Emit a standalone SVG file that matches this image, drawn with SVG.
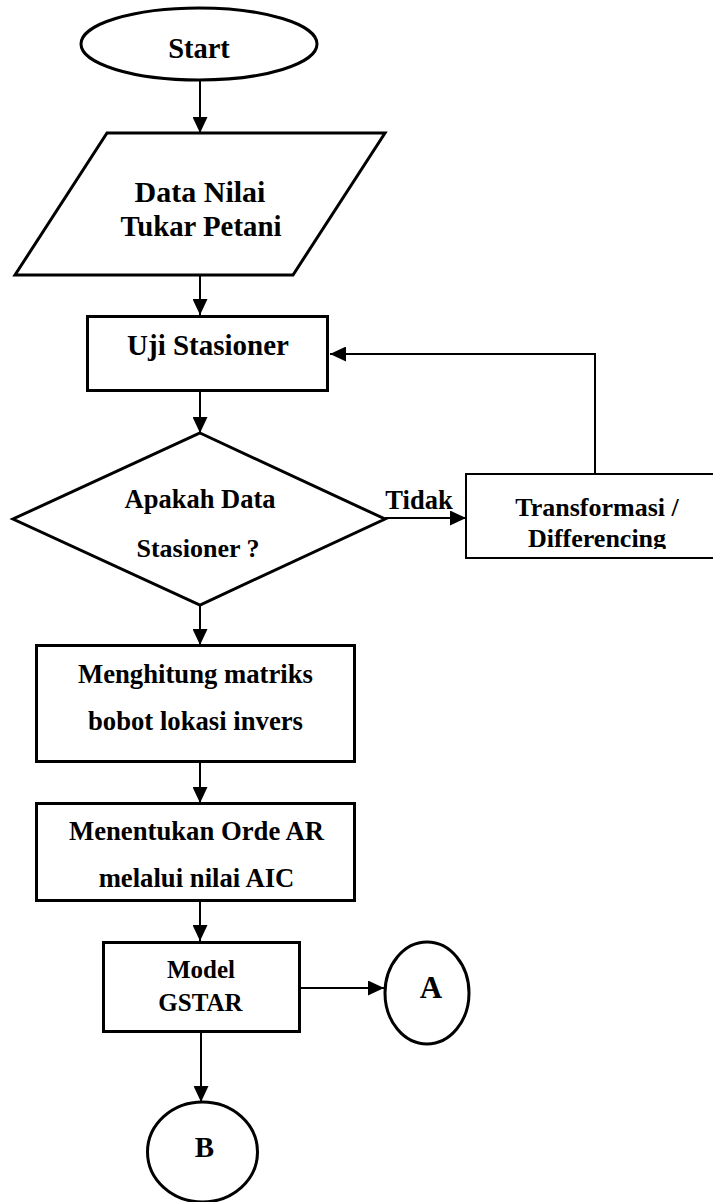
<svg xmlns="http://www.w3.org/2000/svg" width="713" height="1202" viewBox="0 0 713 1202">
<style>
.shape{fill:#fff;stroke:#000;stroke-width:3}
.thin{fill:#fff;stroke:#000;stroke-width:2}
.conn{fill:none;stroke:#000;stroke-width:2}
text{font-family:"Liberation Serif","Times New Roman",serif;font-weight:bold;fill:#000;text-anchor:middle}
</style>
<defs>
<marker id="ah" markerUnits="userSpaceOnUse" markerWidth="16" markerHeight="15" refX="16" refY="7.5" orient="auto">
<path d="M0,0 L16,7.5 L0,15 z" fill="#000"/>
</marker>
<clipPath id="clipT"><rect x="466" y="474" width="260" height="75"/></clipPath>
</defs>
<rect width="713" height="1202" fill="#fff"/>
<g id="connectors">
<line class="conn" x1="200" y1="80" x2="200" y2="133" marker-end="url(#ah)"/>
<line class="conn" x1="200" y1="275" x2="200" y2="315" marker-end="url(#ah)"/>
<line class="conn" x1="200" y1="392" x2="200" y2="433" marker-end="url(#ah)"/>
<line class="conn" x1="385" y1="518" x2="466" y2="518" marker-end="url(#ah)"/>
<polyline class="conn" points="595,474 595,354 330,354" marker-end="url(#ah)"/>
<line class="conn" x1="200" y1="605" x2="200" y2="645" marker-end="url(#ah)"/>
<line class="conn" x1="200" y1="763" x2="200" y2="803" marker-end="url(#ah)"/>
<line class="conn" x1="200" y1="902" x2="200" y2="941" marker-end="url(#ah)"/>
<line class="conn" x1="300" y1="988" x2="384" y2="988" marker-end="url(#ah)"/>
<line class="conn" x1="201" y1="1033" x2="201" y2="1102" marker-end="url(#ah)"/>
</g>
<g id="start">
<ellipse class="shape" cx="199" cy="44" rx="118" ry="36"/>
<text x="199" y="58" font-size="28.5">Start</text>
</g>
<g id="data">
<polygon class="shape" points="107,133 385,133 293,275 15,275"/>
<text x="200" y="202" font-size="30">Data Nilai</text>
<text x="201" y="236" font-size="28.8">Tukar Petani</text>
</g>
<g id="uji">
<rect class="shape" x="87.5" y="316.5" width="240" height="74"/>
<text x="208" y="355" font-size="29">Uji Stasioner</text>
</g>
<g id="decision">
<polygon class="shape" points="200,433 385,519 200,605 13,519"/>
<text x="200" y="508" font-size="26.5">Apakah Data</text>
<text x="198" y="557" font-size="26">Stasioner ?</text>
</g>
<g id="tidak-label">
<text x="419" y="509" font-size="26.5">Tidak</text>
</g>
<g id="transformasi">
<rect class="thin" x="466" y="474" width="260" height="84"/>
<text x="597" y="516" font-size="26">Transformasi /</text>
<text x="597" y="547" font-size="26" clip-path="url(#clipT)">Differencing</text>
</g>
<g id="matriks">
<rect class="shape" x="36.5" y="645.5" width="318" height="116"/>
<text x="195.5" y="683" font-size="26.7">Menghitung matriks</text>
<text x="195.5" y="730" font-size="26.7">bobot lokasi invers</text>
</g>
<g id="orde">
<rect class="shape" x="36.5" y="803.5" width="318" height="97"/>
<text x="196.5" y="840" font-size="26.7">Menentukan Orde AR</text>
<text x="196.5" y="887" font-size="26.7">melalui nilai AIC</text>
</g>
<g id="gstar">
<rect class="shape" x="103.5" y="942.5" width="196" height="89"/>
<text x="201" y="978" font-size="25">Model</text>
<text x="200.5" y="1011" font-size="25">GSTAR</text>
</g>
<g id="conA">
<ellipse class="shape" cx="427" cy="993" rx="42" ry="51"/>
<text x="431" y="998" font-size="31">A</text>
</g>
<g id="conB">
<ellipse class="shape" cx="202.5" cy="1152" rx="55" ry="50"/>
<text x="204.5" y="1157" font-size="29">B</text>
</g>
</svg>
